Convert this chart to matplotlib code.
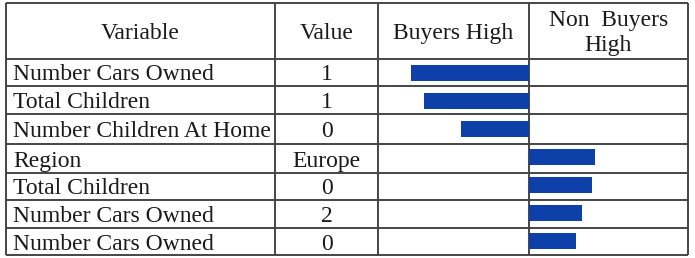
import matplotlib
matplotlib.use("Agg")
import matplotlib.pyplot as plt

# ---- data ----
variables = ["Number Cars Owned", "Total Children", "Number Children At Home",
             "Region", "Total Children", "Number Cars Owned", "Number Cars Owned"]
values = ["1", "1", "0", "Europe", "0", "2", "0"]
buyers_high = [100, 89, 58, 0, 0, 0, 0]
non_buyers_high = [0, 0, 0, 56, 53, 45, 40]
headers = ["Variable", "Value", "Buyers High", "Non  Buyers\nHigh"]

# ---- layout (pixels) ----
W, H = 695, 258
col_x = [6, 275, 378, 529, 688]
row_y = [3, 59, 86, 114, 144, 173, 200, 228, 255]
line_c = "#454545"
txt_c = "#1a1a1a"
bar_c = "#0D40A8"
font = "Liberation Serif"
fs = 17

fig = plt.figure(figsize=(W / 100, H / 100), dpi=100)
ax = fig.add_axes([0, 0, 1, 1])
ax.set_xlim(0, W)
ax.set_ylim(H, 0)
ax.axis("off")

for x in col_x:
    ax.plot([x, x], [row_y[0], row_y[-1]], color=line_c, lw=1.4, solid_capstyle="butt")
for y in row_y:
    ax.plot([col_x[0], col_x[-1]], [y, y], color=line_c, lw=1.4, solid_capstyle="butt")

# headers
hy = (row_y[0] + row_y[1]) / 2
for i, h in enumerate(headers):
    cx = (col_x[i] + col_x[i + 1]) / 2
    if "\n" in h:
        lines = h.split("\n")
        ax.text(cx, hy - 5, lines[0], ha="center", va="baseline", fontsize=fs,
                family=font, color=txt_c)
        ax.text(cx, hy + 20, lines[1], ha="center", va="baseline", fontsize=fs,
                family=font, color=txt_c)
    else:
        ax.text(cx, hy + 8, h, ha="center", va="baseline", fontsize=fs, family=font,
                color=txt_c)

# rows
for r, (v, val) in enumerate(zip(variables, values)):
    cy = (row_y[r + 1] + row_y[r + 2]) / 2
    ax.text(13, cy + 8, v, ha="left", va="baseline", fontsize=fs, family=font, color=txt_c)
    ax.text((col_x[1] + col_x[2]) / 2, cy + 8, val, ha="center", va="baseline",
            fontsize=fs, family=font, color=txt_c)

# bars
bx0, bx1 = col_x[2], col_x[4]
by0, by1 = row_y[1], row_y[-1]
bax = fig.add_axes([bx0 / W, 1 - by1 / H, (bx1 - bx0) / W, (by1 - by0) / H])
bax.patch.set_alpha(0)
bax.axis("off")
scale = 1.18
bax.set_xlim(-(col_x[3] - bx0) / scale, (bx1 - col_x[3]) / scale)
n = len(variables)
bax.set_ylim(n - 0.5, -0.5)
rows = list(range(n))
bax.barh(rows, [-b for b in buyers_high], height=0.6, color=bar_c)
bax.barh(rows, non_buyers_high, height=0.6, color=bar_c)

fig.savefig("out.png", dpi=100)
